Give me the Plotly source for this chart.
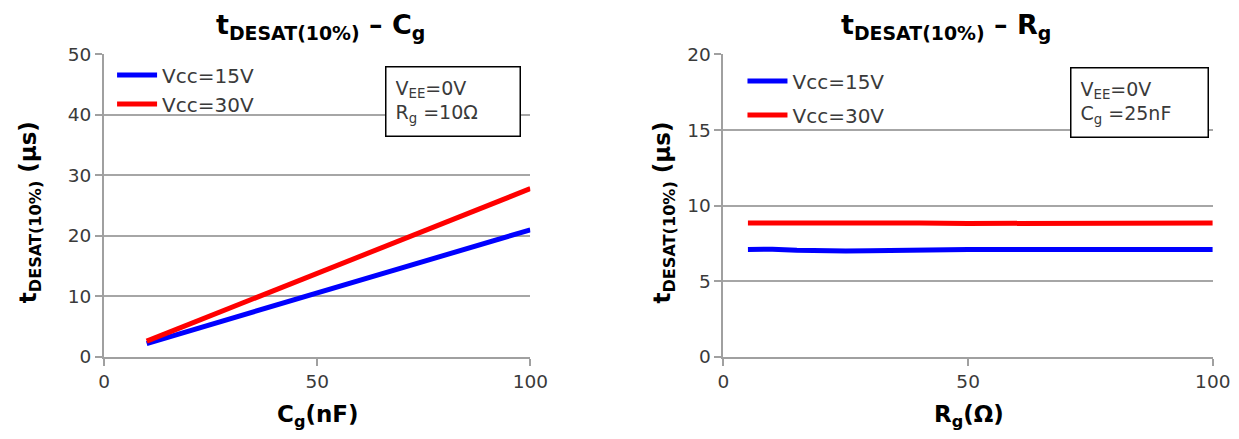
import plotly.graph_objects as go

# Left chart: t_DESAT vs Cg
cg_nf = [10, 20, 30, 40, 50, 60, 70, 80, 90, 100]
cg_vcc15 = [2.2, 4.3, 6.4, 8.5, 10.6, 12.6, 14.7, 16.8, 18.9, 21.0]
cg_vcc30 = [2.6, 5.4, 8.2, 11.0, 13.8, 16.6, 19.4, 22.2, 25.0, 27.8]

# Right chart: t_DESAT vs Rg
rg_ohm = [5, 10, 15, 20, 25, 30, 40, 50, 60, 70, 80, 90, 100]
rg_vcc15 = [7.1, 7.12, 7.05, 7.0, 7.0, 7.02, 7.08, 7.1, 7.1, 7.1, 7.1, 7.1, 7.1]
rg_vcc30 = [8.85, 8.85, 8.88, 8.92, 8.93, 8.9, 8.85, 8.82, 8.82, 8.82, 8.82, 8.85, 8.85]

series_names = ["Vcc=15V", "Vcc=30V"]
colors = ["#0000FF", "#FF0000"]

W, H = 1239, 439
FONT = "DejaVu Sans"
TXT = "#3a3a3a"

fig = go.Figure()

for i, (name, col, ys) in enumerate(zip(series_names, colors, [cg_vcc15, cg_vcc30])):
    fig.add_trace(go.Scatter(x=cg_nf, y=ys, mode="lines", name=name,
                             line=dict(color=col, width=5), xaxis="x", yaxis="y",
                             legend="legend", legendgroup=f"L{i}"))
for i, (name, col, ys) in enumerate(zip(series_names, colors, [rg_vcc15, rg_vcc30])):
    fig.add_trace(go.Scatter(x=rg_ohm, y=ys, mode="lines", name=name,
                             line=dict(color=col, width=5), xaxis="x2", yaxis="y2",
                             legend="legend2", legendgroup=f"R{i}"))

# map target screen pixels to paper fractions (compensates observed render offset/scale)
def px_x(p):
    return ((p - 6) / 0.98) / W

def px_y(p):
    return 1 - ((p - 10.5) / 0.954) / H

ydom = [px_y(357), px_y(54)]
axis_common = dict(showline=True, linecolor="#A0A0A0", linewidth=2,
                   ticks="outside", ticklen=7, tickcolor="#A0A0A0", tickwidth=2,
                   tickfont=dict(family=FONT, size=18.5, color=TXT),
                   zeroline=False)

fig.update_layout(
    width=W, height=H,
    paper_bgcolor="white", plot_bgcolor="white",
    margin=dict(l=0, r=0, t=0, b=0),
    font=dict(family=FONT, color="#000000"),
    xaxis=dict(domain=[px_x(104), px_x(530)], range=[0, 100], tickvals=[0, 50, 100],
               showgrid=False, anchor="y", **axis_common),
    yaxis=dict(domain=ydom, range=[0, 50], tickvals=[0, 10, 20, 30, 40, 50],
               showgrid=True, gridcolor="#A6A6A6", gridwidth=2, anchor="x",
               **axis_common),
    xaxis2=dict(domain=[px_x(723), px_x(1212)], range=[0, 100], tickvals=[0, 50, 100],
                showgrid=False, anchor="y2", **axis_common),
    yaxis2=dict(domain=ydom, range=[0, 20], tickvals=[0, 5, 10, 15, 20],
                showgrid=True, gridcolor="#A6A6A6", gridwidth=2, anchor="x2",
                **axis_common),
    legend=dict(x=px_x(112), y=px_y(55), xanchor="left", yanchor="top",
                bgcolor="rgba(0,0,0,0)", font=dict(family=FONT, size=20, color=TXT),
                tracegroupgap=0, itemwidth=40),
    legend2=dict(x=px_x(742), y=px_y(61), xanchor="left", yanchor="top",
                 bgcolor="rgba(0,0,0,0)", font=dict(family=FONT, size=20, color=TXT),
                 tracegroupgap=5, itemwidth=40),
    showlegend=True,
)

annotations = [
    # titles
    dict(text="<b>t<sub>DESAT(10%)</sub> – C<sub>g</sub></b>", x=px_x(320), y=px_y(26),
         font=dict(family=FONT, size=27)),
    dict(text="<b>t<sub>DESAT(10%)</sub> – R<sub>g</sub></b>", x=px_x(945), y=px_y(26),
         font=dict(family=FONT, size=27)),
    # x axis titles
    dict(text="<b>C<sub>g</sub>(nF)</b>", x=px_x(318), y=px_y(416),
         font=dict(family=FONT, size=23)),
    dict(text="<b>R<sub>g</sub>(Ω)</b>", x=px_x(968), y=px_y(416),
         font=dict(family=FONT, size=23)),
    # y axis titles
    dict(text="<b>t<sub>DESAT(10%)</sub> (μs)</b>", x=px_x(30), y=px_y(212), textangle=-90,
         font=dict(family=FONT, size=23)),
    dict(text="<b>t<sub>DESAT(10%)</sub> (μs)</b>", x=px_x(664), y=px_y(212), textangle=-90,
         font=dict(family=FONT, size=23)),
    # condition boxes
    dict(text="V<sub>EE</sub>=0V<br>R<sub>g</sub> =10Ω", x=px_x(385), y=px_y(66),
         xanchor="left", yanchor="top", align="left", bgcolor="white",
         bordercolor="#000000", borderwidth=1.5, borderpad=9, width=115,
         font=dict(family=FONT, size=19, color=TXT)),
    dict(text="V<sub>EE</sub>=0V<br>C<sub>g</sub> =25nF", x=px_x(1069), y=px_y(67),
         xanchor="left", yanchor="top", align="left", bgcolor="white",
         bordercolor="#000000", borderwidth=1.5, borderpad=9, width=118,
         font=dict(family=FONT, size=19, color=TXT)),
]
for a in annotations:
    a.setdefault("xref", "paper")
    a.setdefault("yref", "paper")
    a.setdefault("showarrow", False)
    a.setdefault("xanchor", "center")
    a.setdefault("yanchor", "middle")
    fig.add_annotation(**a)

fig.write_html("out.html", config={"displayModeBar": False},
               post_script="document.body.style.margin='0';document.body.style.overflow='hidden';")
